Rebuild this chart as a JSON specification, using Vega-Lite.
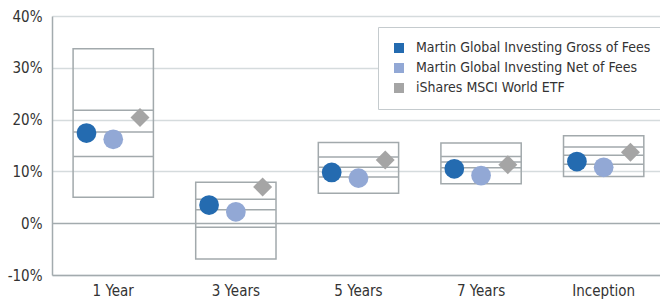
{
  "$schema": "https://vega.github.io/schema/vega-lite/v6.json",
  "width": 608,
  "height": 259,
  "autosize": "none",
  "padding": {"left": 52, "top": 16, "right": 0, "bottom": 26},
  "background": "white",
  "config": {
    "view": {"stroke": null},
    "font": "DejaVu Sans Condensed, Roboto, sans-serif"
  },
  "datasets": {
    "boxes": [
      {"cat": "1 Year", "p_hi": 33.7, "q3": 21.8, "med": 17.6, "q1": 12.9, "p_lo": 5.0},
      {"cat": "3 Years", "p_hi": 7.9, "q3": 4.6, "med": 2.6, "q1": -0.8, "p_lo": -6.9},
      {"cat": "5 Years", "p_hi": 15.6, "q3": 12.8, "med": 10.8, "q1": 8.9, "p_lo": 5.8},
      {"cat": "7 Years", "p_hi": 15.5, "q3": 12.9, "med": 11.8, "q1": 10.7, "p_lo": 7.6},
      {"cat": "Inception", "p_hi": 16.9, "q3": 14.7, "med": 13.1, "q1": 11.4, "p_lo": 9.0}
    ],
    "points": [
      {"cat": "1 Year", "series": "Martin Global Investing Gross of Fees", "value": 17.4},
      {"cat": "1 Year", "series": "Martin Global Investing Net of Fees", "value": 16.2},
      {"cat": "1 Year", "series": "iShares MSCI World ETF", "value": 20.4},
      {"cat": "3 Years", "series": "Martin Global Investing Gross of Fees", "value": 3.5},
      {"cat": "3 Years", "series": "Martin Global Investing Net of Fees", "value": 2.2},
      {"cat": "3 Years", "series": "iShares MSCI World ETF", "value": 7.0},
      {"cat": "5 Years", "series": "Martin Global Investing Gross of Fees", "value": 9.8},
      {"cat": "5 Years", "series": "Martin Global Investing Net of Fees", "value": 8.7},
      {"cat": "5 Years", "series": "iShares MSCI World ETF", "value": 12.2},
      {"cat": "7 Years", "series": "Martin Global Investing Gross of Fees", "value": 10.5},
      {"cat": "7 Years", "series": "Martin Global Investing Net of Fees", "value": 9.2},
      {"cat": "7 Years", "series": "iShares MSCI World ETF", "value": 11.3},
      {"cat": "Inception", "series": "Martin Global Investing Gross of Fees", "value": 11.9},
      {"cat": "Inception", "series": "Martin Global Investing Net of Fees", "value": 10.8},
      {"cat": "Inception", "series": "iShares MSCI World ETF", "value": 13.7}
    ]
  },
  "layer": [
    {
      "data": {"name": "boxes"},
      "mark": {"type": "rect", "fill": null, "stroke": "#a2a9ac", "strokeWidth": 1.5},
      "encoding": {
        "x": {
          "field": "cat",
          "type": "nominal",
          "sort": null,
          "bandPosition": 0,
          "scale": {"paddingInner": 0.345, "paddingOuter": 0.152, "align": 0.566},
          "axis": {
            "title": null,
            "labelAngle": 0,
            "labelFontSize": 15,
            "labelColor": "#333333",
            "labelPadding": 8,
            "ticks": false,
            "domainColor": "#a3abae",
            "domainWidth": 1.5
          }
        },
        "x2": {"field": "cat", "bandPosition": 1},
        "y": {
          "field": "p_hi",
          "type": "quantitative",
          "scale": {"domain": [-10, 40], "nice": false},
          "axis": {
            "title": null,
            "values": [-10, 0, 10, 20, 30, 40],
            "labelExpr": "datum.value + '%'",
            "labelFontSize": 15,
            "labelColor": "#333333",
            "labelPadding": 10,
            "ticks": false,
            "domainColor": "#a3abae",
            "domainWidth": 1.5,
            "gridWidth": 1.5,
            "gridColor": {"condition": {"test": "datum.value === 0", "value": "#a3abae"}, "value": "#d5dbdd"}
          }
        },
        "y2": {"field": "p_lo"}
      }
    },
    {
      "data": {"name": "boxes"},
      "transform": [{"fold": ["q3", "med", "q1"], "as": ["level", "lv"]}],
      "mark": {"type": "tick", "size": 80, "thickness": 1.5, "color": "#a2a9ac", "opacity": 1},
      "encoding": {
        "x": {"field": "cat", "type": "nominal", "sort": null},
        "y": {"field": "lv", "type": "quantitative"}
      }
    },
    {
      "data": {"name": "points"},
      "transform": [{"filter": "datum.series !== 'iShares MSCI World ETF'"}],
      "mark": {"type": "point", "shape": "circle", "filled": true, "opacity": 1, "size": 390},
      "encoding": {
        "x": {"field": "cat", "type": "nominal", "sort": null},
        "y": {"field": "value", "type": "quantitative"},
        "xOffset": {
          "field": "series",
          "type": "nominal",
          "scale": {"domain": ["Martin Global Investing Gross of Fees", "Martin Global Investing Net of Fees", "iShares MSCI World ETF"]}
        },
        "color": {
          "field": "series",
          "type": "nominal",
          "scale": {
            "domain": ["Martin Global Investing Gross of Fees", "Martin Global Investing Net of Fees", "iShares MSCI World ETF"],
            "range": ["#246bb0", "#92a8d5", "#a5a5a5"]
          },
          "legend": {
            "title": null,
            "orient": "none",
            "legendX": 326,
            "legendY": 11,
            "symbolType": "square",
            "symbolSize": 100,
            "symbolStrokeWidth": 0,
            "labelFontSize": 14,
            "labelColor": "#333333",
            "labelOffset": 10,
            "labelLimit": 400,
            "rowPadding": 6,
            "padding": 14,
            "strokeColor": "#c5cbce",
            "fillColor": "white"
          }
        }
      }
    },
    {
      "data": {"name": "points"},
      "transform": [{"filter": "datum.series === 'iShares MSCI World ETF'"}],
      "mark": {"type": "point", "shape": "diamond", "filled": true, "opacity": 1, "size": 360},
      "encoding": {
        "x": {"field": "cat", "type": "nominal", "sort": null},
        "y": {"field": "value", "type": "quantitative"},
        "xOffset": {"field": "series", "type": "nominal"},
        "color": {"field": "series", "type": "nominal"}
      }
    }
  ]
}
